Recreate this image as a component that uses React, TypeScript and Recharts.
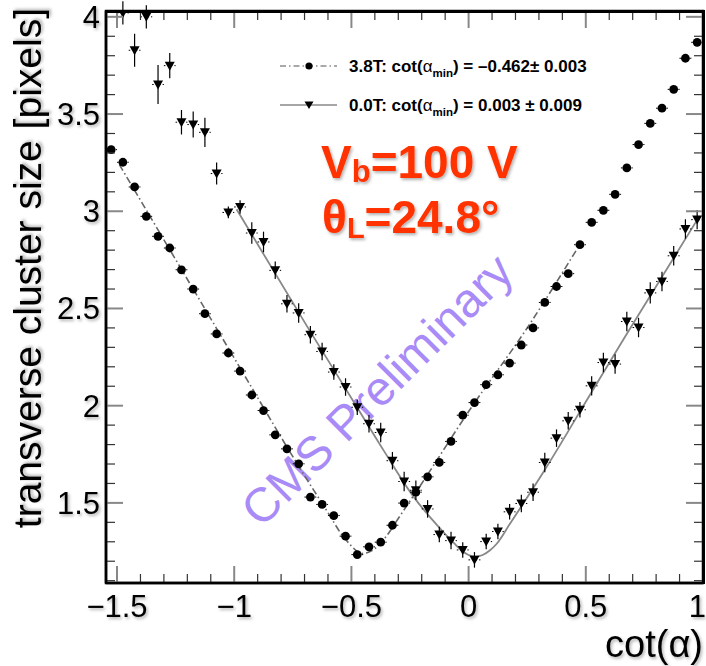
import { ComposedChart, Scatter, Line, XAxis, YAxis, ErrorBar } from 'recharts';

const FONT = '"Liberation Sans", Arial, Helvetica, sans-serif';

// bin centres in cot(alpha)
const cotBins = [
  -1.525, -1.475, -1.425, -1.375, -1.325, -1.275, -1.225, -1.175, -1.125, -1.075,
  -1.025, -0.975, -0.925, -0.875, -0.825, -0.775, -0.725, -0.675, -0.625, -0.575,
  -0.525, -0.475, -0.425, -0.375, -0.325, -0.275, -0.225, -0.175, -0.125, -0.075,
  -0.025, 0.025, 0.075, 0.125, 0.175, 0.225, 0.275, 0.325, 0.375, 0.425,
  0.475, 0.525, 0.575, 0.625, 0.675, 0.725, 0.775, 0.825, 0.875, 0.925, 0.975,
];

// 3.8T cluster size (circles)
const size38 = [
  3.317, 3.252, 3.125, 2.974, 2.871, 2.811, 2.699, 2.6, 2.473, 2.369,
  2.271, 2.178, 2.055, 1.975, 1.85, 1.778, 1.701, 1.53, 1.492, 1.435,
  1.329, 1.234, 1.274, 1.298, 1.385, 1.499, 1.555, 1.634, 1.708, 1.816,
  1.951, 2.016, 2.108, 2.159, 2.219, 2.312, 2.4, 2.531, 2.613, 2.679,
  2.828, 2.943, 3.005, 3.087, 3.223, 3.343, 3.452, 3.53, 3.627, 3.787, 3.869,
];

// 0.0T cluster size (triangles), starts at the second bin
const size00 = [
  4.02, 3.828, 4.0, 3.652, 3.749, 3.458, 3.446, 3.406, 3.194,
  2.994, 3.022, 2.888, 2.842, 2.696, 2.524, 2.477, 2.365, 2.279, 2.173,
  2.096, 1.992, 1.907, 1.862, 1.717, 1.61, 1.565, 1.469, 1.337, 1.306,
  1.258, 1.207, 1.301, 1.353, 1.454, 1.497, 1.555, 1.708, 1.833, 1.922,
  1.979, 2.102, 2.222, 2.214, 2.433, 2.402, 2.58, 2.639, 2.771, 2.909, 2.957,
];
const err00 = [
  0.06, 0.085, 0.06, 0.1, 0.065, 0.063, 0.067, 0.075, 0.057,
  0.03, 0.035, 0.055, 0.053, 0.045, 0.045, 0.05, 0.045, 0.045, 0.04,
  0.045, 0.04, 0.045, 0.05, 0.045, 0.05, 0.05, 0.045, 0.04, 0.045,
  0.04, 0.04, 0.04, 0.04, 0.04, 0.045, 0.045, 0.05, 0.045, 0.045,
  0.04, 0.05, 0.05, 0.05, 0.05, 0.05, 0.055, 0.05, 0.05, 0.05, 0.05,
];

// fit curves
const fit38X = [-1.49, -1.0, -0.7, -0.6, -0.54, -0.505, -0.475, -0.455, -0.43, -0.4, -0.35, -0.3, -0.2, 0, 0.25, 0.475];
const fit38Y = [3.24, 2.245, 1.64, 1.45, 1.335, 1.285, 1.25, 1.24, 1.245, 1.265, 1.33, 1.42, 1.6, 1.97, 2.4, 2.83];
const fit00X = [-0.99, -0.68, -0.48, -0.36, -0.24, -0.16, -0.1, -0.06, -0.03, 0.0, 0.03, 0.06, 0.09, 0.12, 0.175, 0.32, 0.52, 0.67, 0.985];
const fit00Y = [3.01, 2.39, 2.0, 1.765, 1.54, 1.42, 1.34, 1.29, 1.255, 1.232, 1.224, 1.232, 1.255, 1.29, 1.39, 1.66, 2.06, 2.36, 2.975];

const xTicks = [
  -1.5, -1.4, -1.3, -1.2, -1.1, -1, -0.9, -0.8, -0.7, -0.6, -0.5, -0.4, -0.3,
  -0.2, -0.1, 0, 0.1, 0.2, 0.3, 0.4, 0.5, 0.6, 0.7, 0.8, 0.9, 1,
];
const yTicks = [
  1.1, 1.2, 1.3, 1.4, 1.5, 1.6, 1.7, 1.8, 1.9, 2, 2.1, 2.2, 2.3, 2.4, 2.5, 2.6,
  2.7, 2.8, 2.9, 3, 3.1, 3.2, 3.3, 3.4, 3.5, 3.6, 3.7, 3.8, 3.9, 4,
];

const X_DOMAIN = [-1.547, 1.0];
const Y_DOMAIN = [1.088, 4.03];

// plot box (follows from the chart margins and axis sizes below)
const W = 706;
const H = 666;
const MARGIN = { top: 11, right: 3, bottom: 0, left: 0 };
const Y_AXIS_W = 106;
const X_AXIS_H = 83;
const PLOT = {
  left: MARGIN.left + Y_AXIS_W,
  top: MARGIN.top,
  right: W - MARGIN.right,
  bottom: H - MARGIN.bottom - X_AXIS_H,
};

const data38 = cotBins.map((x, i) => ({ x, y: size38[i], ex: 0.025 }));
const data00 = cotBins.slice(1).map((x, i) => ({ x, y: size00[i], ex: 0.025, ey: err00[i] }));
const fit38 = fit38X.map((x, i) => ({ x, y: fit38Y[i] }));
const fit00 = fit00X.map((x, i) => ({ x, y: fit00Y[i] }));

const isMajor = (v: number) => Math.abs(v * 2 - Math.round(v * 2)) < 1e-6;
const fmt = (v: number) => (v < 0 ? '\u2212' : '') + String(Math.abs(v));

const MAJ = 17;
const MIN = 9;
const tickStroke = (m: boolean) => (m ? { stroke: '#888', strokeWidth: 2 } : { stroke: '#333', strokeWidth: 1.2 });

// mirrored ticks on the top and right edges
const toPx = (v: number) => PLOT.left + ((v - X_DOMAIN[0]) / (X_DOMAIN[1] - X_DOMAIN[0])) * (PLOT.right - PLOT.left);
const toPy = (v: number) => PLOT.bottom - ((v - Y_DOMAIN[0]) / (Y_DOMAIN[1] - Y_DOMAIN[0])) * (PLOT.bottom - PLOT.top);

const BottomTick = ({ x, y, payload }: any) => {
  const m = isMajor(payload.value);
  const last = payload.value === 1;
  return (
    <g>
      <line x1={x} x2={x} y1={y} y2={y - (m ? MAJ : MIN)} {...tickStroke(m)} />
      {m && (
        <text
          x={last ? 706 : x}
          y={y + 34}
          textAnchor={last ? 'end' : 'middle'}
          fontSize={31}
          fontFamily={FONT}
          fill="#000"
          filter="url(#shadow)"
        >
          {fmt(payload.value)}
        </text>
      )}
    </g>
  );
};

const LeftTick = ({ x, y, payload }: any) => {
  const m = isMajor(payload.value);
  return (
    <g>
      <line x1={x} x2={x + (m ? MAJ : MIN)} y1={y} y2={y} {...tickStroke(m)} />
      {m && (
        <text x={x - 6} y={y + 11} textAnchor="end" fontSize={31} fontFamily={FONT} fill="#000" filter="url(#shadow)">
          {fmt(payload.value)}
        </text>
      )}
    </g>
  );
};

const Circle = ({ cx, cy }: any) => <circle cx={cx} cy={cy} r={4.4} fill="#000" />;
const Triangle = ({ cx, cy }: any) => (
  <path d={`M${cx - 5},${cy - 4} L${cx + 5},${cy - 4} L${cx},${cy + 5} Z`} fill="#000" />
);

const frame = { stroke: '#000', strokeWidth: 2.5 };

export default function App() {
  return (
    <div style={{ position: 'absolute', left: 0, top: 0, width: W, height: H, background: '#fff' }}>
      <svg width={W} height={H} style={{ position: 'absolute', left: 0, top: 0 }}>
        <defs>
          <filter id="shadow" x="-10%" y="-10%" width="130%" height="140%">
            <feDropShadow dx="1.5" dy="2" stdDeviation="1.5" floodColor="#000" floodOpacity="0.3" />
          </filter>
        </defs>
        <text
          x={377}
          y={390}
          textAnchor="middle"
          dominantBaseline="central"
          fontSize={48}
          fontFamily={FONT}
          fill="#a98bf7"
          transform="rotate(-45 377 390)"
        >
          CMS Preliminary
        </text>
        <text
          transform="translate(41,8) rotate(-90)"
          textAnchor="end"
          fontSize={39}
          fontFamily={FONT}
          fill="#000"
          filter="url(#shadow)"
        >
          transverse cluster size [pixels]
        </text>
        <text x={703} y={657} textAnchor="end" fontSize={38} fontFamily={FONT} fill="#000" filter="url(#shadow)">
          cot(α)
        </text>

        {/* legend */}
        <line x1={280} x2={337} y1={66} y2={66} stroke="#555" strokeWidth={1.2} strokeDasharray="6 3 1.5 3" />
        <circle cx={309} cy={66} r={3.6} fill="#000" />
        <text x={349} y={72} fontSize={17} fontWeight="bold" fontFamily={FONT} fill="#000">
          3.8T: cot(<tspan fontWeight="normal">α</tspan>
          <tspan fontSize={11.5} dy={5}>min</tspan>
          <tspan dy={-5}>) = –0.462± 0.003</tspan>
        </text>
        <line x1={280} x2={337} y1={105} y2={105} stroke="#888" strokeWidth={1.5} />
        <path d="M304.5,101.5 L313.5,101.5 L309,109 Z" fill="#000" />
        <text x={349} y={111} fontSize={17} fontWeight="bold" fontFamily={FONT} fill="#000">
          0.0T: cot(<tspan fontWeight="normal">α</tspan>
          <tspan fontSize={11.5} dy={5}>min</tspan>
          <tspan dy={-5}>) = 0.003 ± 0.009</tspan>
        </text>

        {/* annotation */}
        <text x={321} y={178} fontSize={46} fontWeight="bold" fontFamily={FONT} fill="#ff3300" filter="url(#shadow)">
          V<tspan fontSize={31} dy={4}>b</tspan>
          <tspan dy={-4}>=100 V</tspan>
        </text>
        <text x={322} y={233} fontSize={46} fontWeight="bold" fontFamily={FONT} fill="#ff3300" filter="url(#shadow)">
          θ<tspan fontSize={29} dy={5}>L</tspan>
          <tspan dy={-5}>=24.8°</tspan>
        </text>
      </svg>

      <div style={{ position: 'absolute', left: 0, top: 0 }}>
        <ComposedChart width={W} height={H} margin={MARGIN}>
          <XAxis
            type="number"
            dataKey="x"
            domain={X_DOMAIN}
            allowDataOverflow
            ticks={xTicks}
            interval={0}
            height={X_AXIS_H}
            tickSize={0}
            tickMargin={0}
            tickLine={false}
            axisLine={frame}
            tick={(p: any) => <BottomTick {...p} />}
          />
          <YAxis
            type="number"
            dataKey="y"
            domain={Y_DOMAIN}
            allowDataOverflow
            ticks={yTicks}
            interval={0}
            width={Y_AXIS_W}
            tickSize={0}
            tickMargin={0}
            tickLine={false}
            axisLine={frame}
            tick={(p: any) => <LeftTick {...p} />}
          />
          <Line
            data={fit38}
            dataKey="y"
            type="monotone"
            stroke="#666"
            strokeWidth={1.6}
            strokeDasharray="7 3 1.5 3"
            dot={false}
            activeDot={false}
            isAnimationActive={false}
          />
          <Line
            data={fit00}
            dataKey="y"
            type="monotone"
            stroke="#888"
            strokeWidth={1.8}
            dot={false}
            activeDot={false}
            isAnimationActive={false}
          />
          <Scatter data={data38} dataKey="y" shape={(p: any) => <Circle {...p} />} isAnimationActive={false}>
            <ErrorBar dataKey="ex" direction="x" width={0} stroke="#000" strokeWidth={1} strokeDasharray="1.5 2" />
          </Scatter>
          <Scatter data={data00} dataKey="y" shape={(p: any) => <Triangle {...p} />} isAnimationActive={false}>
            <ErrorBar dataKey="ex" direction="x" width={0} stroke="#000" strokeWidth={1} strokeDasharray="1.5 2" />
            <ErrorBar dataKey="ey" direction="y" width={0} stroke="#000" strokeWidth={1.2} />
          </Scatter>
        </ComposedChart>
      </div>

      {/* top / right frame with mirrored ticks, laid over the chart */}
      <svg
        width={W}
        height={H}
        style={{ position: 'absolute', left: 0, top: 0, zIndex: 10, pointerEvents: 'none' }}
      >
        <rect
          x={PLOT.left}
          y={PLOT.top}
          width={PLOT.right - PLOT.left}
          height={PLOT.bottom - PLOT.top}
          fill="none"
          stroke="#000"
          strokeWidth={2.5}
        />
        {xTicks.map((v) => {
          const m = isMajor(v);
          const px = toPx(v);
          return <line key={`t${v}`} x1={px} x2={px} y1={PLOT.top} y2={PLOT.top + (m ? MAJ : MIN)} {...tickStroke(m)} />;
        })}
        {yTicks.map((v) => {
          const m = isMajor(v);
          const py = toPy(v);
          return <line key={`r${v}`} x1={PLOT.right} x2={PLOT.right - (m ? MAJ : MIN)} y1={py} y2={py} {...tickStroke(m)} />;
        })}
      </svg>
      {/* plain HTML bars for the top and right frame edges */}
      <div
        style={{
          position: 'absolute',
          left: PLOT.left - 1,
          top: PLOT.top - 1,
          width: PLOT.right - PLOT.left + 2,
          height: 3,
          background: '#000',
          zIndex: 11,
        }}
      />
      <div
        style={{
          position: 'absolute',
          left: PLOT.right - 1,
          top: PLOT.top - 1,
          width: 3,
          height: PLOT.bottom - PLOT.top + 2,
          background: '#000',
          zIndex: 11,
        }}
      />
    </div>
  );
}
